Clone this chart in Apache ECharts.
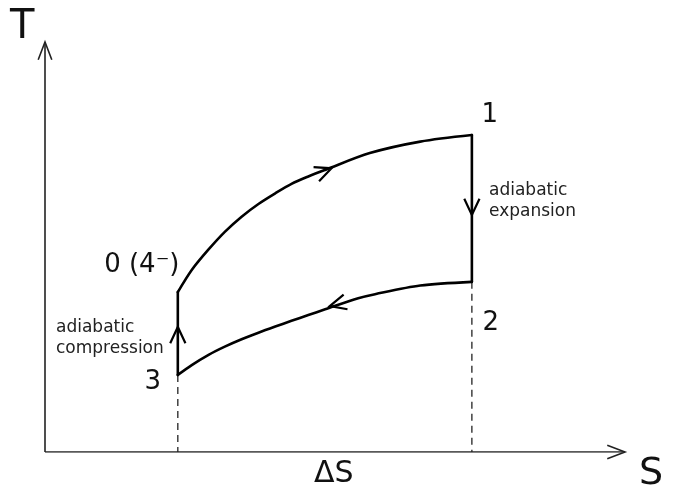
<!DOCTYPE html>
<html><head><meta charset="utf-8">
<script src="https://cdn.jsdelivr.net/npm/echarts@6/dist/echarts.min.js"></script>
<style>html,body{margin:0;padding:0;background:#fff}#c{width:678px;height:491px}</style>
</head><body><div id="c"></div>
<script>
// ---- data (entropy S, temperature T, arbitrary units) ----
const S_MAX = 10, T_MAX = 10;
const S_left = 2.29, S_right = 7.36;
// heat addition 0 -> 1
const heatS = [2.29, 2.53, 2.82, 3.10, 3.39, 3.68, 3.97, 4.25, 4.54, 4.83, 5.60, 6.47, 7.36];
const heatT = [3.90, 4.44, 4.94, 5.37, 5.74, 6.05, 6.31, 6.54, 6.72, 6.88, 7.29, 7.57, 7.73];
// heat rejection 2 -> 3
const coolS = [7.36, 6.47, 5.69, 5.40, 4.83, 4.54, 4.25, 3.97, 3.68, 3.39, 3.10, 2.82, 2.53, 2.29];
const coolT = [4.15, 4.06, 3.85, 3.75, 3.48, 3.34, 3.20, 3.06, 2.91, 2.75, 2.57, 2.37, 2.12, 1.88];
// states
const stateNames = ['0 (4\u207B)', '1', '2', '3'];
const stateS = [2.29, 7.36, 7.36, 2.29];
const stateT = [3.90, 7.73, 4.15, 1.88];
// direction arrows: tip and a point behind it on the path
const arrowTipS = [4.94, 7.36, 4.91, 2.29];
const arrowTipT = [6.92, 5.78, 3.56, 3.05];
const arrowTailS = [4.25, 7.36, 5.69, 2.29];
const arrowTailT = [6.54, 7.73, 3.85, 1.88];
const processNotes = ['adiabatic\nexpansion', 'adiabatic\ncompression'];
const axisNames = ['T', 'S', '\u0394S'];

// ---- build ----
const FONT = 'DejaVu Sans';
const zip = (a, b) => a.map((v, i) => [v, b[i]]);
const labelOffsets = [[-36, -27], [18, -20], [19, 41], [-25, 7]];

function makeArrow(len, halfDeg, width, color) {
  return function (params, api) {
    const tip = api.coord([api.value(0), api.value(1)]);
    const tail = api.coord([api.value(2), api.value(3)]);
    let ux = tail[0] - tip[0], uy = tail[1] - tip[1];
    const n = Math.hypot(ux, uy); ux /= n; uy /= n;
    const a = halfDeg * Math.PI / 180;
    const rot = (s) => [tip[0] + len * (ux * Math.cos(s * a) - uy * Math.sin(s * a)),
                        tip[1] + len * (ux * Math.sin(s * a) + uy * Math.cos(s * a))];
    return {
      type: 'polyline',
      shape: { points: [rot(1), tip, rot(-1)] },
      style: { stroke: color, lineWidth: width, fill: 'none', lineJoin: 'miter' }
    };
  };
}

const lineBase = { type: 'line', symbol: 'none', silent: true, animation: false };
const cycleStyle = { color: '#000', width: 2.6, cap: 'round' };

const option = {
  animation: false,
  backgroundColor: '#fff',
  grid: { left: 45, right: 53, top: 42, bottom: 39 },
  xAxis: { type: 'value', min: 0, max: S_MAX, show: false },
  yAxis: { type: 'value', min: 0, max: T_MAX, show: false },
  series: [
    // axes
    Object.assign({}, lineBase, { data: [[0, 0], [S_MAX, 0]], lineStyle: { color: '#222', width: 1.6 } }),
    Object.assign({}, lineBase, { data: [[0, 0], [0, T_MAX]], lineStyle: { color: '#222', width: 1.6 } }),
    {
      type: 'custom', silent: true, animation: false,
      renderItem: makeArrow(19, 21, 1.6, '#222'),
      data: [[S_MAX, 0, 0, 0], [0, T_MAX, 0, 0]]
    },
    // dashed drops
    Object.assign({}, lineBase, { data: [[S_left, stateT[3]], [S_left, 0]], lineStyle: { color: '#222', width: 1.3, type: [7, 5] } }),
    Object.assign({}, lineBase, { data: [[S_right, stateT[2]], [S_right, 0]], lineStyle: { color: '#222', width: 1.3, type: [7, 5] } }),
    // cycle
    Object.assign({}, lineBase, { data: zip(heatS, heatT), smooth: 0.3, lineStyle: cycleStyle }),
    Object.assign({}, lineBase, { data: zip(coolS, coolT), smooth: 0.3, lineStyle: cycleStyle }),
    Object.assign({}, lineBase, { data: [[stateS[1], stateT[1]], [stateS[2], stateT[2]]], lineStyle: cycleStyle }),
    Object.assign({}, lineBase, { data: [[stateS[3], stateT[3]], [stateS[0], stateT[0]]], lineStyle: cycleStyle }),
    {
      type: 'custom', silent: true, animation: false,
      renderItem: makeArrow(18, 25, 2.2, '#000'),
      data: arrowTipS.map((s, i) => [s, arrowTipT[i], arrowTailS[i], arrowTailT[i]])
    },
    // state labels
    {
      type: 'custom', silent: true, animation: false,
      renderItem: function (params, api) {
        const i = params.dataIndex;
        const p = api.coord([api.value(0), api.value(1)]);
        return {
          type: 'text',
          style: {
            x: p[0] + labelOffsets[i][0], y: p[1] + labelOffsets[i][1],
            text: stateNames[i], fill: '#111', font: '26px "' + FONT + '"',
            align: 'center', verticalAlign: 'middle'
          }
        };
      },
      data: zip(stateS, stateT)
    }
  ],
  graphic: [
    { type: 'text', left: 10, top: 8, style: { text: axisNames[0], fill: '#111', font: '40px "' + FONT + '"' } },
    { type: 'text', left: 639, top: 455, style: { text: axisNames[1], fill: '#111', font: '38px "' + FONT + '"' } },
    { type: 'text', left: 314, top: 459, style: { text: axisNames[2], fill: '#111', font: '30px "' + FONT + '"' } },
    { type: 'text', left: 489, top: 180, style: { text: processNotes[0], fill: '#222', font: '17px "' + FONT + '"', lineHeight: 21 } },
    { type: 'text', left: 56, top: 317, style: { text: processNotes[1], fill: '#222', font: '17px "' + FONT + '"', lineHeight: 21 } }
  ]
};

const chart = echarts.init(document.getElementById('c'), null, { renderer: 'canvas' });
chart.setOption(option);
</script>
</body></html>
